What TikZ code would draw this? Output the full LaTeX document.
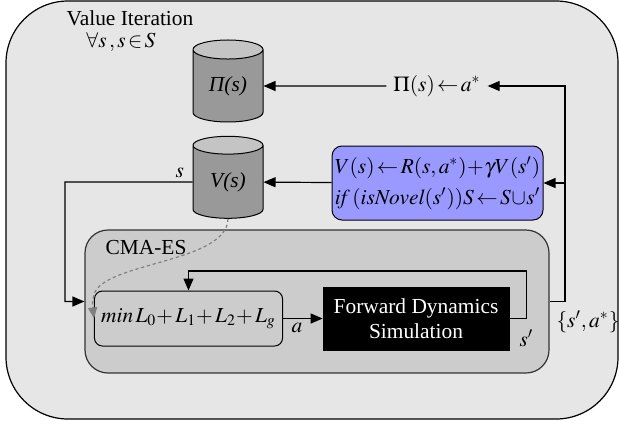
\documentclass[tikz,border=0pt]{standalone}
\usepackage{mathptmx}
\usepackage{fontspec}
\setmainfont{Liberation Serif}
\usetikzlibrary{shapes.geometric,arrows.meta}

\definecolor{outergray}{HTML}{E6E6E6}
\definecolor{cmagray}{HTML}{CCCCCC}
\definecolor{drumgray}{HTML}{999999}
\definecolor{drumtop}{HTML}{C4C4C4}
\definecolor{updateblue}{HTML}{9999FF}

\begin{document}
\begin{tikzpicture}[x=0.5pt,y=-0.5pt,font=\fontsize{10.7}{12.5}\selectfont]

% definitions
\tikzstyle{region} = [rectangle, draw=black, line width=0.6pt, fill=outergray]
\tikzstyle{cmaregion} = [rectangle, draw=black!80, line width=0.6pt, fill=cmagray, rounded corners=11.5pt, minimum width=232pt, minimum height=71.5pt]
\tikzstyle{drum} = [cylinder, shape border rotate=90, draw=black, line width=0.5pt, cylinder uses custom fill, cylinder body fill=drumgray, cylinder end fill=drumtop, minimum width=35pt, minimum height=41pt, aspect=0.5, inner sep=0pt, font=\fontsize{10.7}{12.5}\selectfont\itshape]
\tikzstyle{costbox} = [rectangle, draw=black, line width=0.5pt, fill=cmagray, rounded corners=4pt, minimum width=82.5pt, minimum height=27.5pt]
\tikzstyle{simbox} = [rectangle, draw=black, fill=black, text=white, minimum width=93pt, minimum height=31.5pt, align=center, inner sep=0pt]
\tikzstyle{updatebox} = [rectangle, draw=black, line width=0.5pt, fill=updateblue, rounded corners=5pt, minimum width=105.5pt, minimum height=37pt, align=center, inner sep=0pt]
\tikzstyle{arrow} = [line width=0.6pt, -{Triangle[length=6pt,width=5pt]}]
\tikzstyle{hint} = [gray, line width=0.6pt, dash pattern=on 1.6pt off 1.4pt, -{Triangle[length=5.5pt,width=4.5pt]}]

\useasboundingbox (0,0) rectangle (619,423);

% the graph
\node (vi) [region, rounded corners=31pt, minimum width=306pt, minimum height=209pt] at (312,210) {};
\node (vititle) [inner sep=0pt] at (130,18) {Value Iteration};
\node (viset) [inner sep=0pt] at (121,42) {$\forall s\,, s\!\in\! S$};

\node (pis) [drum] at (228,86) {Π(s)};
\node (vs) [drum] at (228,182) {V(s)};

\node (pitxt) at (437,86) {$\Pi(s)\!\leftarrow\! a^{*}$};
\node (upd) [updatebox] at (437.5,183) {$V(s)\!\leftarrow\! R(s,a^{*})\!+\!\gamma V(s')$\\[3pt] $\mathit{if}\,(\mathit{isNovel}(s'))S\!\leftarrow\! S\!\cup\! s'$};

\node (cma) [cmaregion] at (317,301.5) {};
\node (cmatitle) at (146,248) {CMA-ES};

\node (cost) [costbox] at (188.5,318.5) {$\mathit{min}\,L_0{+}\,L_1{+}\,L_2{+}\,L_g$};
\node (fwd) [simbox] at (416,318.5) {Forward Dynamics\\Simulation};

\draw [arrow] (pitxt) -- (pis);
\draw [arrow] (upd) -- (vs);
\draw [arrow] (vs.west) -- (65,182) node [pos=0.1, above, inner sep=2pt] {$s$} |- (cma.west);
\draw [arrow] (cost) -- (fwd) node [pos=0.1, below right, inner sep=2pt] {$a$};
\draw [arrow] (fwd.east) -- ++(17,0) node [below, yshift=-2pt] {$s'$} |- (188.5,271) -- (cost.north);
\draw [arrow] (cma.east) -- (565,301.5) |- (pitxt.east);
\draw [arrow] (565,183) -- (upd.east);
\node (result) at (588,322) {$\{s', a^{*}\}$};
\draw [hint] (vs.south) .. controls (227,262) and (110,262) .. (95,292) .. controls (92,302) .. (cost.west);

\end{tikzpicture}
\end{document}
